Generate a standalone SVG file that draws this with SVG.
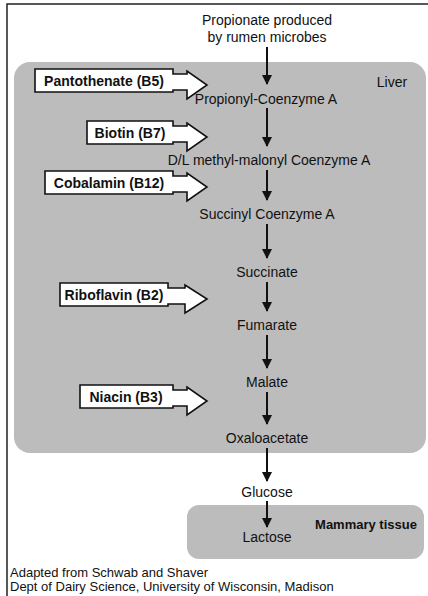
<svg xmlns="http://www.w3.org/2000/svg" width="428" height="596" viewBox="0 0 428 596">
<style>
.t{font-family:"Liberation Sans",Arial,sans-serif;font-size:14px;fill:#111;text-anchor:middle}
.b{font-family:"Liberation Sans",Arial,sans-serif;font-size:14px;font-weight:bold;fill:#111;text-anchor:middle}
.f{font-family:"Liberation Sans",Arial,sans-serif;font-size:13px;fill:#111}
.va{fill:#fff;stroke:#111;stroke-width:1.6;stroke-linejoin:miter}
.region{fill:#bcbcbc}
.conn line{stroke:#111;stroke-width:2}
</style>
<defs>
<marker id="ah" viewBox="0 0 10 10" refX="9" refY="5" markerWidth="5" markerHeight="5.5" orient="auto" markerUnits="strokeWidth">
<path d="M0,0 L10,5 L0,10 z" fill="#111"/>
</marker>
</defs>
<rect width="428" height="596" fill="#fff"/>
<path d="M7,596 V4 H428" fill="none" stroke="#222" stroke-width="1.5"/>
<g id="liver"><rect class="region" x="14" y="62" width="412" height="391" rx="16"/><text class="t" x="392" y="87">Liver</text></g>
<g id="mammary"><rect class="region" x="187" y="505" width="237" height="54" rx="12"/><text class="b" x="366" y="529" style="font-size:13px">Mammary tissue</text></g>
<g id="conns" class="conn">
<line x1="267" y1="47" x2="267" y2="84" marker-end="url(#ah)"/>
<line x1="267" y1="108" x2="267" y2="146" marker-end="url(#ah)"/>
<line x1="267" y1="170" x2="267" y2="200" marker-end="url(#ah)"/>
<line x1="267" y1="224" x2="267" y2="258" marker-end="url(#ah)"/>
<line x1="267" y1="282" x2="267" y2="311" marker-end="url(#ah)"/>
<line x1="267" y1="335" x2="267" y2="368" marker-end="url(#ah)"/>
<line x1="267" y1="392" x2="267" y2="424" marker-end="url(#ah)"/>
<line x1="267" y1="448" x2="267" y2="481" marker-end="url(#ah)"/>
<line x1="267" y1="501" x2="267" y2="527" marker-end="url(#ah)"/>
</g>
<g id="propionate"><text class="t" x="267" y="25">Propionate produced</text><text class="t" x="267" y="42">by rumen microbes</text></g>
<g id="propionyl"><text class="t" x="266" y="104">Propionyl-Coenzyme A</text></g>
<g id="methylmalonyl"><text class="t" x="269" y="165">D/L methyl-malonyl Coenzyme A</text></g>
<g id="succinylcoa"><text class="t" x="267" y="219">Succinyl Coenzyme A</text></g>
<g id="succinate"><text class="t" x="267" y="277">Succinate</text></g>
<g id="fumarate"><text class="t" x="267" y="330">Fumarate</text></g>
<g id="malate"><text class="t" x="267" y="387">Malate</text></g>
<g id="oxaloacetate"><text class="t" x="267" y="443">Oxaloacetate</text></g>
<g id="glucose"><text class="t" x="267" y="497">Glucose</text></g>
<g id="lactose"><text class="t" x="267" y="542">Lactose</text></g>
<g id="b5"><path class="va" d="M35,69 H173 V74 H187 V71 L207,85 L187,99 V90 H173 V92 H35 Z"/><text class="b" x="104" y="86">Pantothenate (B5)</text></g>
<g id="b7"><path class="va" d="M87,121 H173 V126 H187 V123 L207,137 L187,151 V142 H173 V144 H87 Z"/><text class="b" x="130" y="138">Biotin (B7)</text></g>
<g id="b12"><path class="va" d="M45,171 H173 V176 H187 V173 L207,187 L187,201 V192 H173 V194 H45 Z"/><text class="b" x="109" y="188">Cobalamin (B12)</text></g>
<g id="b2"><path class="va" d="M60,283 H168 V288 H185 V285 L207,299 L185,313 V304 H168 V306 H60 Z"/><text class="b" x="114" y="300">Riboflavin (B2)</text></g>
<g id="b3"><path class="va" d="M80,385 H173 V390 H187 V387 L207,401 L187,415 V406 H173 V408 H80 Z"/><text class="b" x="126" y="402">Niacin (B3)</text></g>
<g id="credits"><text class="f" x="10" y="577">Adapted from Schwab and Shaver</text><text class="f" x="10" y="591">Dept of Dairy Science, University of Wisconsin, Madison</text></g>
</svg>
